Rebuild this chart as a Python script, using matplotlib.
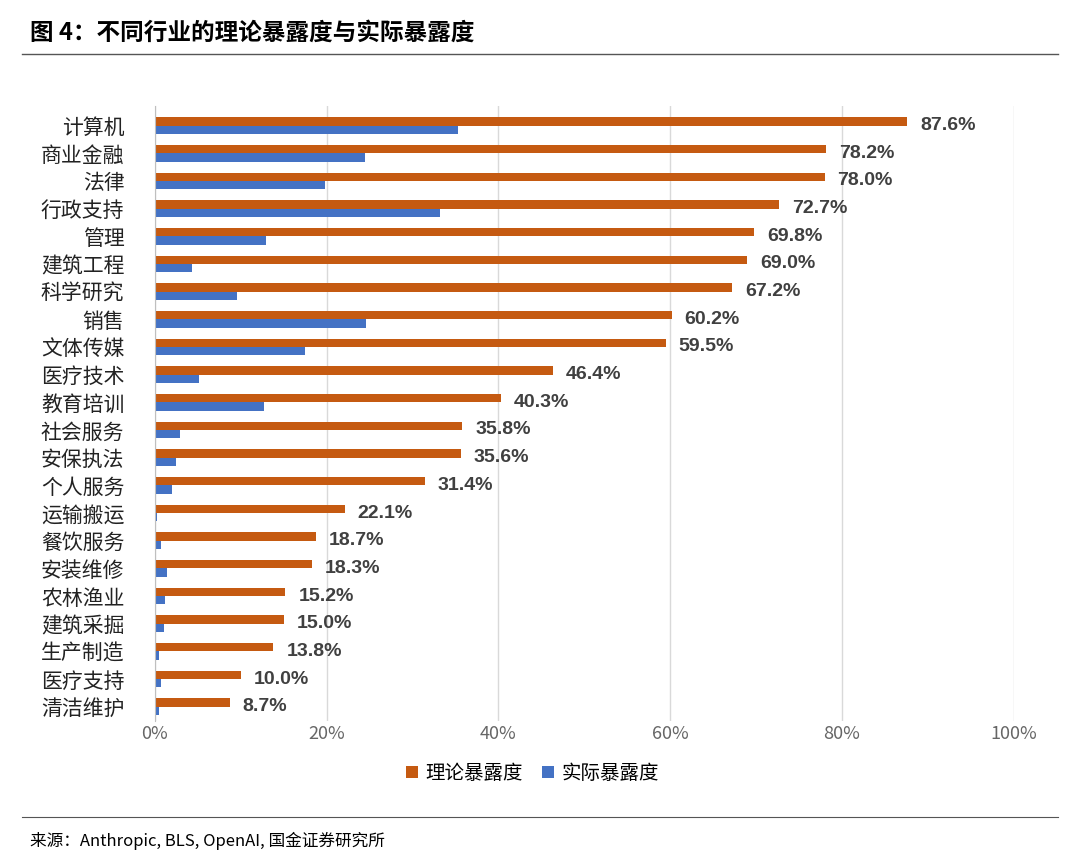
import matplotlib.pyplot as plt
import numpy as np

plt.rcParams['font.family'] = ['Noto Sans CJK SC', 'DejaVu Sans']

categories = ['计算机', '商业金融', '法律', '行政支持', '管理', '建筑工程', '科学研究', '销售',
              '文体传媒', '医疗技术', '教育培训', '社会服务', '安保执法', '个人服务', '运输搬运',
              '餐饮服务', '安装维修', '农林渔业', '建筑采掘', '生产制造', '医疗支持', '清洁维护']
theory = [87.6, 78.2, 78.0, 72.7, 69.8, 69.0, 67.2, 60.2, 59.5, 46.4, 40.3,
          35.8, 35.6, 31.4, 22.1, 18.7, 18.3, 15.2, 15.0, 13.8, 10.0, 8.7]
actual = [35.3, 24.5, 19.8, 33.2, 12.9, 4.3, 9.6, 24.6, 17.5, 5.1, 12.7,
          2.9, 2.4, 2.0, 0.2, 0.7, 1.4, 1.2, 1.0, 0.5, 0.7, 0.5]

orange = '#C55A11'
blue = '#4472C4'

fig = plt.figure(figsize=(10.8, 8.63), dpi=100)
ax = fig.add_axes([0.1435, 0.165, 0.795, 0.712])

y = np.arange(len(categories))
h = 0.3
ax.barh(y - h / 2, theory, h, color=orange, label='理论暴露度')
ax.barh(y + h / 2, actual, h, color=blue, label='实际暴露度')
for yi, v in zip(y, theory):
    ax.text(v + 1.5, yi, f'{v:.1f}%', va='center', ha='left',
            fontsize=14, color='#404040', family=['Liberation Sans', 'DejaVu Sans'], fontweight='bold')

ax.set_yticks(y)
ax.set_yticklabels(categories, fontsize=15, color='#222222')
ax.set_ylim(len(categories) - 0.5, -0.7)
ax.set_xlim(0, 100)
ax.set_xticks(range(0, 101, 20))
ax.set_xticklabels([f'{t}%' for t in range(0, 101, 20)], fontsize=13, color='#666666')
ax.grid(axis='x', color='#D9D9D9', lw=1)
ax.set_axisbelow(True)
for s in ['top', 'right', 'bottom']:
    ax.spines[s].set_visible(False)
ax.spines['left'].set_color('#BFBFBF')
ax.tick_params(length=0)
ax.tick_params(axis='y', pad=22)

ax.legend(loc='upper center', bbox_to_anchor=(0.44, -0.04), ncol=2, frameon=False,
          fontsize=14, handlelength=0.6, handleheight=0.6, columnspacing=1.0, handletextpad=0.4)

fig.text(0.028, 0.962, '图 4：不同行业的理论暴露度与实际暴露度', fontsize=17,
         fontweight='bold', style='italic', va='center')
fig.add_artist(plt.Line2D([0.02, 0.98], [0.938, 0.938], color='#555555', lw=1))
fig.add_artist(plt.Line2D([0.02, 0.98], [0.053, 0.053], color='#555555', lw=0.8))
fig.text(0.028, 0.026, '来源：Anthropic, BLS, OpenAI, 国金证券研究所', fontsize=12, va='center')

fig.savefig('out.png', dpi=100)
